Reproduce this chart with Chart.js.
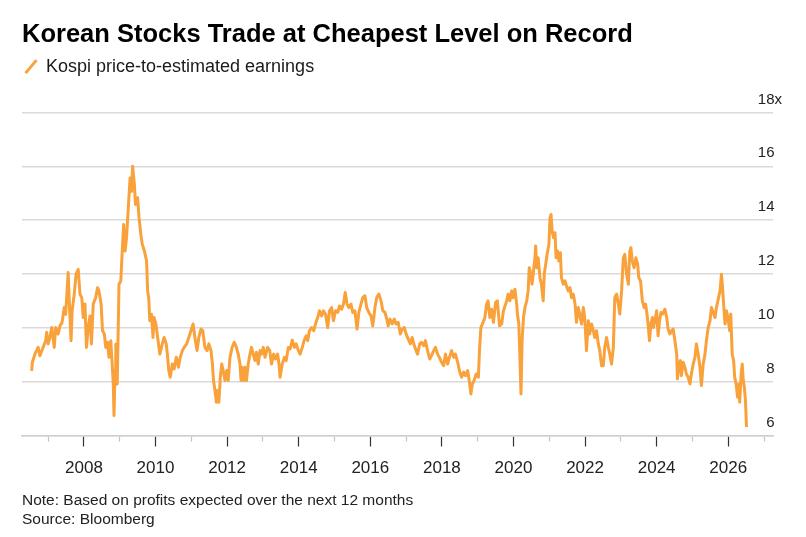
<!DOCTYPE html>
<html>
<head>
<meta charset="utf-8">
<script src="https://cdn.jsdelivr.net/npm/chart.js@4.4.1/dist/chart.umd.min.js"></script>
<style>
  body { margin: 0; background: #fff; }
</style>
</head>
<body>
<canvas id="pe-chart" width="806" height="537"></canvas>
<script>
const years = [
  2006.54, 2006.56, 2006.63, 2006.72, 2006.77, 2006.86, 2006.93, 2006.96, 2007.00, 2007.05,
  2007.10, 2007.17, 2007.21, 2007.28, 2007.33, 2007.39, 2007.45, 2007.49, 2007.56, 2007.59,
  2007.64, 2007.67, 2007.73, 2007.78, 2007.84, 2007.89, 2007.94, 2007.98, 2008.03, 2008.07,
  2008.12, 2008.17, 2008.21, 2008.26, 2008.33, 2008.38, 2008.42, 2008.48, 2008.52, 2008.57,
  2008.61, 2008.66, 2008.70, 2008.75, 2008.79, 2008.82, 2008.84, 2008.87, 2008.89, 2008.93,
  2008.98, 2009.03, 2009.07, 2009.11, 2009.15, 2009.19, 2009.24, 2009.29, 2009.33, 2009.36,
  2009.41, 2009.44, 2009.50, 2009.54, 2009.59, 2009.63, 2009.69, 2009.75, 2009.78, 2009.81,
  2009.84, 2009.89, 2009.93, 2009.96, 2010.01, 2010.06, 2010.12, 2010.19, 2010.24, 2010.30,
  2010.34, 2010.37, 2010.41, 2010.47, 2010.52, 2010.58, 2010.64, 2010.69, 2010.75, 2010.80,
  2010.87, 2010.93, 2010.99, 2011.05, 2011.10, 2011.16, 2011.21, 2011.27, 2011.32, 2011.38,
  2011.44, 2011.49, 2011.55, 2011.59, 2011.62, 2011.66, 2011.70, 2011.73, 2011.77, 2011.81,
  2011.85, 2011.89, 2011.94, 2011.99, 2012.03, 2012.08, 2012.14, 2012.20, 2012.26, 2012.31,
  2012.36, 2012.39, 2012.42, 2012.46, 2012.50, 2012.54, 2012.59, 2012.64, 2012.68, 2012.73,
  2012.78, 2012.82, 2012.87, 2012.92, 2012.96, 2013.01, 2013.06, 2013.13, 2013.19, 2013.24,
  2013.30, 2013.35, 2013.41, 2013.45, 2013.48, 2013.54, 2013.60, 2013.65, 2013.71, 2013.76,
  2013.82, 2013.88, 2013.93, 2013.99, 2014.04, 2014.10, 2014.15, 2014.21, 2014.25, 2014.30,
  2014.36, 2014.42, 2014.47, 2014.53, 2014.58, 2014.64, 2014.69, 2014.75, 2014.81, 2014.86,
  2014.92, 2014.97, 2015.03, 2015.09, 2015.14, 2015.20, 2015.25, 2015.30, 2015.35, 2015.40,
  2015.46, 2015.51, 2015.57, 2015.63, 2015.68, 2015.74, 2015.79, 2015.85, 2015.90, 2015.96,
  2016.02, 2016.07, 2016.13, 2016.18, 2016.24, 2016.30, 2016.35, 2016.41, 2016.45, 2016.50,
  2016.55, 2016.61, 2016.67, 2016.72, 2016.78, 2016.84, 2016.89, 2016.95, 2017.00, 2017.06,
  2017.12, 2017.17, 2017.23, 2017.28, 2017.32, 2017.38, 2017.43, 2017.49, 2017.54, 2017.60,
  2017.66, 2017.71, 2017.77, 2017.82, 2017.88, 2017.93, 2017.99, 2018.05, 2018.10, 2018.16,
  2018.21, 2018.27, 2018.33, 2018.38, 2018.44, 2018.49, 2018.55, 2018.61, 2018.66, 2018.72,
  2018.77, 2018.81, 2018.85, 2018.90, 2018.96, 2019.02, 2019.05, 2019.09, 2019.15, 2019.20,
  2019.25, 2019.29, 2019.34, 2019.39, 2019.44, 2019.50, 2019.55, 2019.61, 2019.67, 2019.72,
  2019.81, 2019.85, 2019.90, 2019.95, 2019.99, 2020.04, 2020.09, 2020.11, 2020.15, 2020.18,
  2020.21, 2020.24, 2020.28, 2020.32, 2020.37, 2020.41, 2020.44, 2020.49, 2020.52, 2020.56,
  2020.60, 2020.62, 2020.65, 2020.69, 2020.74, 2020.78, 2020.83, 2020.86, 2020.90, 2020.94,
  2020.99, 2021.02, 2021.05, 2021.08, 2021.12, 2021.16, 2021.19, 2021.23, 2021.27, 2021.31,
  2021.34, 2021.39, 2021.44, 2021.48, 2021.53, 2021.58, 2021.62, 2021.67, 2021.72, 2021.76,
  2021.81, 2021.85, 2021.90, 2021.95, 2021.99, 2022.04, 2022.09, 2022.13, 2022.18, 2022.23,
  2022.27, 2022.32, 2022.37, 2022.41, 2022.46, 2022.51, 2022.55, 2022.60, 2022.65, 2022.69,
  2022.74, 2022.79, 2022.83, 2022.88, 2022.93, 2022.97, 2023.02, 2023.07, 2023.11, 2023.16,
  2023.21, 2023.25, 2023.28, 2023.32, 2023.37, 2023.42, 2023.47, 2023.50, 2023.55, 2023.60,
  2023.65, 2023.69, 2023.73, 2023.76, 2023.80, 2023.84, 2023.88, 2023.91, 2023.95, 2024.00,
  2024.04, 2024.08, 2024.12, 2024.17, 2024.23, 2024.28, 2024.32, 2024.37, 2024.42, 2024.46,
  2024.51, 2024.56, 2024.58, 2024.62, 2024.66, 2024.69, 2024.74, 2024.79, 2024.83, 2024.88,
  2024.93, 2024.97, 2025.02, 2025.07, 2025.11, 2025.16, 2025.21, 2025.25, 2025.30, 2025.35,
  2025.39, 2025.44, 2025.49, 2025.53, 2025.58, 2025.63, 2025.67, 2025.72, 2025.77, 2025.81,
  2025.84, 2025.87, 2025.91, 2025.95, 2025.99, 2026.04, 2026.07, 2026.11, 2026.15, 2026.18,
  2026.22, 2026.26, 2026.30, 2026.32, 2026.36, 2026.39, 2026.42, 2026.45, 2026.48, 2026.51
];
const pe = [
  8.40, 8.72, 9.02, 9.27, 8.96, 9.27, 9.52, 9.83, 9.40, 9.64,
  10.01, 9.27, 10.01, 9.77, 10.07, 10.20, 10.75, 10.50, 12.05, 11.00,
  9.52, 10.63, 11.25, 11.99, 12.17, 11.25, 11.12, 10.38, 10.88, 9.27,
  10.01, 10.44, 9.40, 10.88, 11.12, 11.49, 11.37, 10.88, 9.89, 9.77,
  9.27, 9.46, 8.90, 9.52, 8.65, 7.91, 6.74, 8.41, 9.40, 7.91,
  11.62, 11.74, 12.85, 13.84, 12.85, 13.35, 14.46, 15.57, 15.07, 16.00,
  15.32, 14.58, 14.83, 14.09, 13.47, 13.10, 12.85, 12.48, 11.37, 11.12,
  10.26, 10.50, 9.64, 10.38, 10.14, 9.64, 9.02, 9.40, 9.64, 9.40,
  8.90, 8.41, 8.16, 8.65, 8.47, 8.90, 8.53, 8.90, 9.15, 9.27,
  9.40, 9.64, 9.89, 10.14, 9.64, 9.15, 9.64, 9.95, 9.89, 9.27,
  9.15, 9.40, 9.15, 8.65, 8.04, 7.67, 7.23, 7.67, 7.23, 8.16,
  8.65, 8.41, 8.04, 8.41, 8.04, 8.90, 9.27, 9.46, 9.27, 9.02,
  8.65, 8.04, 8.53, 8.04, 8.53, 8.04, 8.65, 9.02, 9.27, 9.02,
  8.78, 9.09, 8.65, 9.15, 9.02, 9.27, 8.90, 9.27, 9.15, 8.65,
  9.02, 8.84, 9.02, 8.65, 8.16, 8.65, 8.90, 8.78, 9.27, 9.21,
  9.54, 9.27, 9.40, 9.15, 9.02, 9.27, 9.52, 9.70, 9.52, 9.89,
  10.01, 9.89, 10.14, 10.38, 10.63, 10.44, 10.63, 10.50, 10.01, 10.63,
  10.75, 10.26, 10.63, 10.57, 10.81, 10.69, 10.88, 11.31, 10.88, 10.75,
  10.88, 10.57, 10.63, 9.95, 10.57, 10.88, 11.12, 11.19, 10.75, 10.57,
  10.44, 10.07, 10.75, 11.12, 11.25, 11.00, 10.63, 10.57, 10.38, 10.07,
  10.32, 10.14, 10.32, 10.14, 10.20, 9.77, 9.95, 10.01, 9.77, 9.58,
  9.40, 9.64, 9.33, 9.15, 9.02, 9.40, 9.46, 9.33, 9.52, 9.15,
  8.84, 8.96, 9.15, 9.27, 9.02, 8.90, 8.72, 8.59, 9.02, 8.65,
  8.90, 9.15, 8.90, 9.02, 8.72, 8.41, 8.16, 8.35, 8.22, 8.41,
  7.98, 7.54, 7.91, 8.04, 8.28, 8.16, 9.15, 10.01, 10.20, 10.38,
  10.88, 11.00, 10.38, 10.69, 10.20, 10.94, 11.00, 10.07, 10.14, 10.63,
  11.00, 11.25, 11.00, 11.37, 11.12, 11.43, 10.88, 10.51, 10.14, 8.90,
  7.54, 9.52, 10.38, 10.75, 11.00, 11.37, 12.23, 11.99, 11.62, 12.11,
  12.60, 13.04, 12.23, 12.60, 11.86, 11.62, 11.00, 11.99, 12.36, 12.73,
  13.10, 14.09, 14.21, 13.59, 13.35, 13.53, 12.60, 12.85, 12.48, 12.79,
  11.86, 11.62, 11.74, 11.56, 11.37, 11.49, 11.12, 11.25, 10.88, 10.20,
  10.75, 10.51, 10.14, 10.75, 10.38, 9.15, 10.26, 9.77, 10.14, 9.89,
  9.64, 9.89, 9.40, 9.15, 8.59, 8.59, 9.27, 9.64, 9.27, 9.02,
  8.65, 9.27, 11.12, 11.25, 10.88, 10.51, 11.37, 12.60, 12.73, 11.99,
  11.62, 12.85, 12.98, 12.48, 12.23, 12.60, 12.36, 11.86, 11.74, 11.00,
  10.75, 10.88, 10.51, 10.14, 9.52, 10.14, 10.38, 10.01, 10.26, 10.63,
  9.70, 10.26, 10.57, 10.51, 10.69, 10.38, 9.95, 9.77, 9.89, 9.95,
  9.52, 9.02, 8.10, 8.65, 8.78, 8.22, 8.72, 8.53, 8.28, 8.16,
  7.91, 8.28, 8.65, 8.90, 9.40, 9.02, 8.53, 7.85, 8.65, 9.02,
  9.52, 10.01, 10.26, 10.75, 10.57, 10.38, 10.75, 11.06, 11.37, 11.99,
  11.49, 10.88, 10.14, 10.63, 10.38, 9.89, 10.51, 9.02, 8.78, 8.16,
  7.91, 7.42, 7.91, 7.23, 8.28, 8.65, 8.04, 7.79, 7.30, 6.31
];

const noteLines = [
  'Note: Based on profits expected over the next 12 months',
  'Source: Bloomberg'
];

const orange = '#f9a13a';

// make line chart
function makeLineChart() {
  Chart.defaults.font.family = "'Liberation Sans', Arial, Helvetica, sans-serif";
  const points = years.map((yr, i) => ({ x: yr, y: pe[i] }));

  // odd years get a short grey tick, even years a longer dark one
  const isMinor = (c) => c.tick && c.tick.value % 2 !== 0;

  const ctx = document.getElementById('pe-chart').getContext('2d');
  const myChart = new Chart(ctx, {
    type: 'line',
    data: {
      datasets: [{
        label: 'Kospi price-to-estimated earnings',
        data: points,
        borderColor: orange,
        backgroundColor: orange,
        borderWidth: 3,
        borderJoinStyle: 'round',
        pointRadius: 0,
        pointStyle: 'line',
        pointRotation: -50,
        pointBorderColor: orange,
        pointBorderWidth: 3,
        tension: 0
      }]
    },
    options: {
      responsive: false,
      animation: false,
      layout: { padding: { left: 22, right: 15, top: 0, bottom: 0 } },
      plugins: {
        title: {
          display: true,
          text: 'Korean Stocks Trade at Cheapest Level on Record',
          align: 'start',
          color: '#000',
          font: { size: 25.5, weight: 'bold' },
          padding: { top: 20, bottom: 4 }
        },
        legend: {
          position: 'top',
          align: 'start',
          labels: {
            usePointStyle: true,
            boxWidth: 12,
            boxHeight: 12,
            padding: 3,
            color: '#1a1a1a',
            font: { size: 18 }
          }
        },
        subtitle: {
          display: true,
          position: 'bottom',
          align: 'start',
          text: noteLines,
          color: '#222',
          font: { size: 15.5, lineHeight: 1.23 },
          padding: { top: 9.5, bottom: 8 }
        },
        tooltip: { enabled: false }
      },
      scales: {
        x: {
          type: 'linear',
          min: 2006.27,
          max: 2027.25,
          border: { display: true, color: '#cfcfcf', width: 1.5 },
          grid: {
            drawOnChartArea: false,
            drawTicks: true,
            tickLength: 20,
            tickWidth: 1.2,
            tickColor: (c) => isMinor(c) ? '#c4c4c4' : '#333',
            tickBorderDash: (c) => isMinor(c) ? [5, 60] : [10, 60]
          },
          ticks: {
            stepSize: 1,
            autoSkip: false,
            maxRotation: 0,
            includeBounds: false,
            padding: 2.8,
            color: '#222',
            font: { size: 17 },
            callback: (v) => (v % 2 === 0) ? String(v) : ''
          }
        },
        y: {
          position: 'right',
          min: 6,
          max: 19,
          border: { display: false },
          grid: {
            color: '#dadada',
            lineWidth: 1.5,
            drawTicks: false
          },
          ticks: {
            stepSize: 2,
            includeBounds: false,
            mirror: true,
            padding: 9,
            labelOffset: -13,
            color: '#222',
            font: { size: 15 },
            callback: (v) => (v === 18) ? '18x' : v + '\u2002'
          }
        }
      }
    }
  });

  myChart.render();
}

makeLineChart();
</script>
</body>
</html>
